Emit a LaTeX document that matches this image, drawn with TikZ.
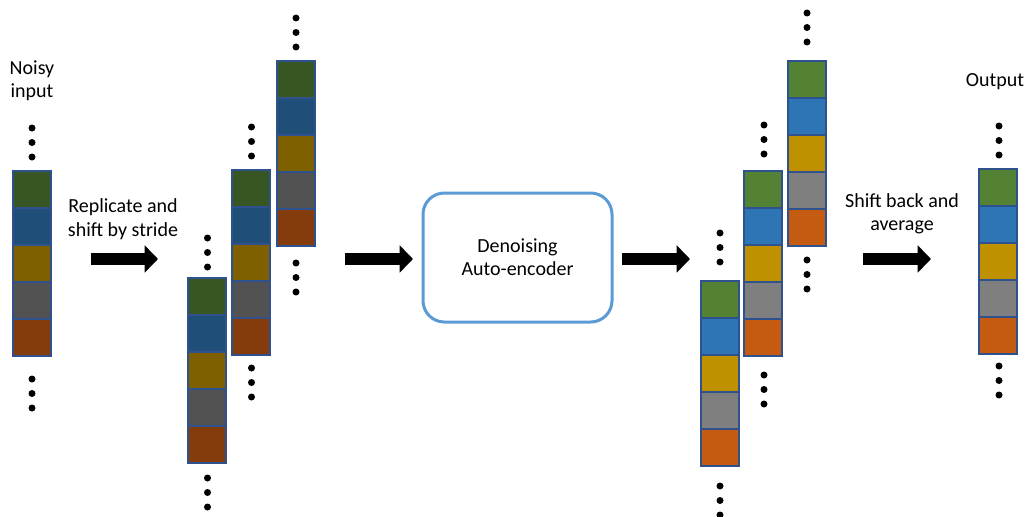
\documentclass[tikz,border=0pt]{standalone}
\usepackage{fontspec}
\setmainfont{Carlito}
\usetikzlibrary{arrows.meta}
\definecolor{nGreen}{HTML}{375623}
\definecolor{nBlue}{HTML}{1F4E79}
\definecolor{nGold}{HTML}{7F6000}
\definecolor{nGray}{HTML}{525252}
\definecolor{nRust}{HTML}{843C0C}
\definecolor{cGreen}{HTML}{548235}
\definecolor{cBlue}{HTML}{2E75B6}
\definecolor{cGold}{HTML}{BF9000}
\definecolor{cGray}{HTML}{7F7F7F}
\definecolor{cRust}{HTML}{C55A11}
\definecolor{cellEdge}{HTML}{2F528F}
\definecolor{boxBlue}{HTML}{5B9BD5}
\tikzset{
  cell/.style={draw=cellEdge, line width=1pt, minimum width=28.5pt, minimum height=27.75pt, inner sep=0pt},
  blob/.style={circle, fill=black, inner sep=0pt, minimum size=5.25pt},
  txt/.style={font=\fontsize{15}{17.5}\selectfont, align=center},
  fat/.style={line width=8.5pt, -{Triangle[length=10pt,width=20pt]}},
  dae/.style={draw=boxBlue, line width=2.25pt, rounded corners=16pt, minimum width=141.75pt, minimum height=96.75pt}
}
% one column of five cells: name, left x, top y, palette prefix
\newcommand{\cellstack}[4]{%
  \foreach \c [count=\i] in {Green,Blue,Gold,Gray,Rust}
    \node[cell, fill=#4\c] (#1-\i) at (#2+19,{#3+\i*37-18.5}) {};
}
% three dots: x, y of the top one
\newcommand{\threedots}[2]{%
  \foreach \k in {0,1,2}
    \node[blob] at (#1,{#2+\k*14.5}) {};
}

\begin{document}
\begin{tikzpicture}[x=0.75pt,y=-0.75pt]
\useasboundingbox (0,0) rectangle (1027,517);
% noisy input
\node[txt] (noisy) at (32,81) {Noisy\\input};
\cellstack{in}{13}{171}{n}
\threedots{32}{128}
\threedots{32}{379}
\node[txt] (repl) at (123,219) {Replicate and\\shift by stride};
\coordinate (a1s) at (91,259);
\coordinate (a1e) at (158,259);
\draw[fat] (a1s) -- (a1e);
% replicated, shifted copies
\cellstack{na}{188}{278}{n}
\threedots{207.5}{238}
\threedots{207.5}{478}
\cellstack{nb}{232}{170}{n}
\threedots{251.5}{127}
\threedots{251.5}{368}
\cellstack{nc}{277}{61}{n}
\threedots{296}{18}
\threedots{296}{263}
\coordinate (a2s) at (345,259);
\coordinate (a2e) at (413,259);
\draw[fat] (a2s) -- (a2e);
% the network
\node[dae, txt] (net) at (517.5,257.5) {Denoising\\Auto-encoder};
\coordinate (a3s) at (622,259);
\coordinate (a3e) at (690,259);
\draw[fat] (a3s) -- (a3e);
% denoised copies
\cellstack{ca}{701}{281}{c}
\threedots{720}{233}
\threedots{720}{486}
\cellstack{cb}{744}{171}{c}
\threedots{764}{125}
\threedots{764}{375}
\cellstack{cc}{788}{61}{c}
\threedots{807}{13}
\threedots{807}{260}
\node[txt] (back) at (902,214) {Shift back and\\average};
\coordinate (a4s) at (863,259);
\coordinate (a4e) at (931,259);
\draw[fat] (a4s) -- (a4e);
% output
\node[txt] (out) at (995,82) {Output};
\cellstack{out}{979}{169}{c}
\threedots{999}{126}
\threedots{999}{366}
\end{tikzpicture}
\end{document}
